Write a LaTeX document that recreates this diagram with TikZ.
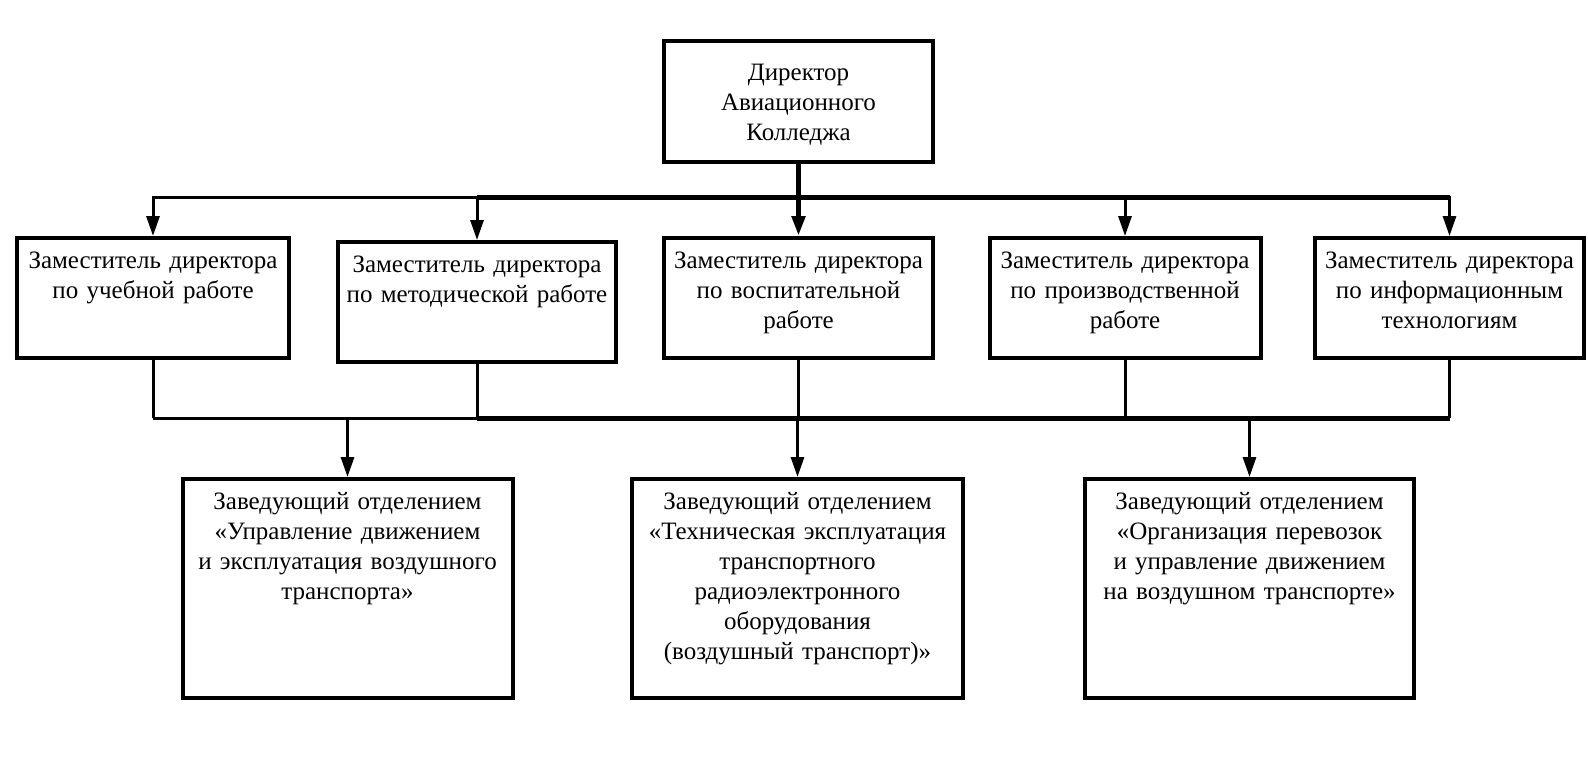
\documentclass[tikz,border=0pt]{standalone}
\usepackage{fontspec}
\setmainfont{Liberation Serif}
\usepackage{tikz}
\usetikzlibrary{
	arrows.meta,
	positioning,
	calc
}
\tikzset{
	cargo/.style={
		draw,
		line width=2pt,
		align=center,
		anchor=north,
		inner xsep=0pt,
		inner ysep=0pt,
		text width=134pt,
		text height=15pt,
		text depth=45pt,
		font=\fontsize{12.5}{15}\selectfont
	},
	jefe/.style={
		cargo,
		text width=160pt,
		text depth=94.5pt
	},
	director/.style={
		cargo,
		minimum width=134.5pt,
		text height=20pt,
		text depth=40.5pt
	},
	flecha/.style={
		-{Triangle[length=10pt, width=6.5pt]},
		line width=1.5pt
	},
	linea/.style={
		line width=1.5pt
	},
	tronco/.style={
		line width=2.5pt
	}
}

\begin{document}
\begin{tikzpicture}[x=0.5pt, y=-0.5pt]
		\useasboundingbox (0,0) rectangle (1588,756);
		\node[director] (dir) at (798.5,38.5) {Директор\\Авиационного\\Колледжа};
		\node[cargo, minimum width=136pt] (zam1) at (153,236) {Заместитель директора\\по учебной работе};
		\node[cargo, minimum width=139pt] (zam2) at (477,240) {Заместитель директора\\по методической работе};
		\node[cargo, minimum width=134.5pt] (zam3) at (798.5,236) {Заместитель директора\\по воспитательной\\работе};
		\node[cargo, minimum width=135.5pt] (zam4) at (1125,236) {Заместитель директора\\по производственной\\работе};
		\node[cargo, minimum width=134.5pt] (zam5) at (1449.5,236) {Заместитель директора\\по информационным\\технологиям};
		\node[jefe, minimum width=165pt] (jefe1) at (347.5,477) {Заведующий отделением\\«Управление движением\\и эксплуатация воздушного\\транспорта»};
		\node[jefe, minimum width=165.5pt] (jefe2) at (797.5,477) {Заведующий отделением\\«Техническая эксплуатация\\транспортного\\радиоэлектронного\\оборудования\\(воздушный транспорт)»};
		\node[jefe, minimum width=164.5pt] (jefe3) at (1249.5,477) {Заведующий отделением\\«Организация перевозок\\и управление движением\\на воздушном транспорте»};
		% buses
		\coordinate (bus) at (0,197);
		\coordinate (bus2) at (0,418);
		\draw[flecha, line width=2.5pt] (dir.south) -- (zam3.north);
		\foreach \z in {zam1,zam2,zam4,zam5}
			\draw[flecha] (dir.south |- bus) -| (\z.north);
		\draw[tronco] (zam2.north |- bus) -- (zam5.north |- bus);
		\foreach \z in {zam1,zam2,zam3,zam4,zam5}
			\draw[linea] (\z.south) -- (\z.south |- bus2);
		\draw[linea] (zam1.south |- bus2) -- (zam5.south |- bus2);
		\draw[tronco] (zam2.south |- bus2) -- (zam5.south |- bus2);
		\foreach \j in {jefe1,jefe2,jefe3}
			\draw[flecha] (\j.north |- bus2) -- (\j.north);
	\end{tikzpicture}
\end{document}
